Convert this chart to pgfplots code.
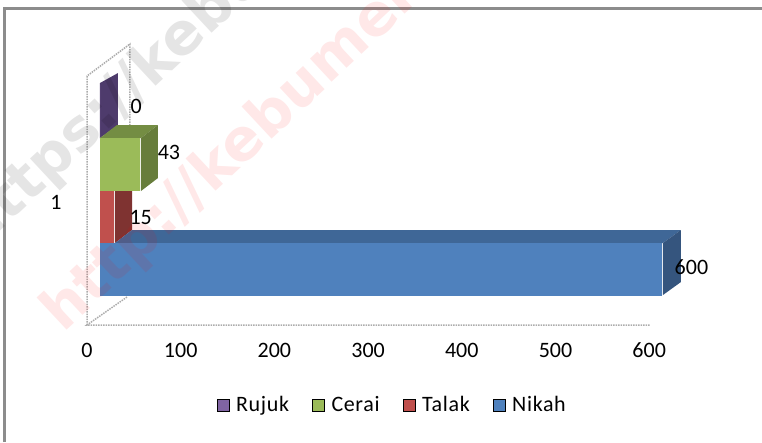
\documentclass[border=0pt]{standalone}
\usepackage{pgfplots}
\pgfplotsset{compat=1.18}
\usepackage{fontspec}
\setmainfont{Carlito}
\newfontfamily\wm{DejaVu Sans}
\definecolor{rujuk}{HTML}{8064A2}\definecolor{rujukS}{HTML}{4E3B6C}
\definecolor{cerai}{HTML}{9BBB59}\definecolor{ceraiS}{HTML}{677D3B}\definecolor{ceraiT}{HTML}{748D43}
\definecolor{talak}{HTML}{C0504D}\definecolor{talakS}{HTML}{7F3331}
\definecolor{nikah}{HTML}{4F81BD}\definecolor{nikahT}{HTML}{3F6797}\definecolor{nikahS}{HTML}{35557E}
\pgfplotsset{squareleg/.style={legend image code/.code={\fill[##1] (0pt,-6pt) rectangle (12pt,6pt);}},
  facebar/.style={forget plot, xbar, bar shift=0pt, bar width=53pt, draw=none, xshift=13pt}}
\begin{document}
\begin{tikzpicture}
\begin{axis}[
  scale only axis, width=762pt, height=442pt,
  xmin=-92.85, xmax=720.4, ymin=0, ymax=442, y dir=reverse,
  axis line style={draw=none}, tick style={draw=none},
  clip=false,
  xtick={0,100,200,300,400,500,600},
  xticklabels={0,100,200,300,400,500,600},
  xticklabel pos=lower,
  x tick label style={anchor=center, yshift=92pt},
  ytick={202}, yticklabels={1},
  y tick label style={anchor=center, xshift=56pt},
  tick label style={font=\fontsize{22}{24}\selectfont},
  legend columns=-1,
  legend style={draw=none, fill=none, at={(axis cs:325.8,405)}, anchor=center,
    font=\fontsize{22}{24}\selectfont\addfontfeatures{LetterSpace=3}, column sep=0pt,
    /tikz/every even column/.append style={column sep=21pt},
    /tikz/every odd column/.append style={column sep=5pt}},
]
% walls and floor
\addplot[forget plot, no marks, draw=gray!65, line width=1.5pt, densely dotted, sharp plot] coordinates {(0,325)(0,76)(45.89,44)(45.89,125)};
\addplot[forget plot, no marks, draw=gray!65, line width=1.5pt, densely dotted, sharp plot] coordinates {(42.69,297)(0,325)(600.9,325)};
% frame
\addplot[forget plot, no marks, draw=gray!90, line width=3pt, sharp plot] coordinates {(-88.05,442)(-88.05,8)(720.4,8)};
% Rujuk
\addplot[forget plot, no marks, draw=none, fill=rujukS, sharp plot] coordinates {(13.87,83)(33.08,73)(33.08,125)(13.87,138)} --cycle;
\addplot[facebar, fill=rujuk,
  nodes near coords={0}, every node near coord/.append style={anchor=west, xshift=27pt, yshift=5pt, font=\fontsize{22}{24}\selectfont, text=black}]
  coordinates {(0,111)};
% Cerai
\addplot[forget plot, no marks, draw=none, fill=ceraiT, sharp plot] coordinates {(13.87,138)(32.02,125)(75.77,125)(57.63,138)} --cycle;
\addplot[forget plot, no marks, draw=none, fill=ceraiS, sharp plot] coordinates {(57.63,138)(75.77,125)(75.77,178)(57.63,191)} --cycle;
\addplot[facebar, fill=cerai,
  nodes near coords={43}, every node near coord/.append style={anchor=west, xshift=14pt, yshift=12pt, font=\fontsize{22}{24}\selectfont, text=black}]
  coordinates {(43,164.5)};
% Talak
\addplot[forget plot, no marks, draw=none, fill=talakS, sharp plot] coordinates {(29.88,191)(48.03,191)(48.03,230)(29.88,243)} --cycle;
\addplot[facebar, fill=talak,
  nodes near coords={15}, every node near coord/.append style={anchor=west, xshift=12pt, yshift=0pt, font=\fontsize{22}{24}\selectfont, text=black}]
  coordinates {(15,217)};
% Nikah
\addplot[forget plot, no marks, draw=none, fill=nikahT, sharp plot] coordinates {(29.88,243)(48.03,230)(633.9,230)(614.7,243)} --cycle;
\addplot[forget plot, no marks, draw=none, fill=nikahS, sharp plot] coordinates {(614.7,243)(633.9,230)(633.9,282)(614.7,295)} --cycle;
\addplot[facebar, fill=nikah,
  nodes near coords={600}, every node near coord/.append style={anchor=west, xshift=9pt, yshift=2pt, font=\fontsize{22}{24}\selectfont, text=black}]
  coordinates {(600,269)};
% legend
\addlegendimage{squareleg, fill=rujuk}\addlegendentry{Rujuk}
\addlegendimage{squareleg, fill=cerai}\addlegendentry{Cerai}
\addlegendimage{squareleg, fill=talak}\addlegendentry{Talak}
\addlegendimage{squareleg, fill=nikah}\addlegendentry{Nikah}
% watermarks
\node[overlay, rotate=43, anchor=west, inner sep=0pt, text=red, opacity=0.09, font=\wm\bfseries\fontsize{58}{64}\selectfont] at (axis cs:-37,322) {http://kebumen};
\node[overlay, rotate=43, anchor=west, inner sep=0pt, text=black, opacity=0.1, font=\wm\bfseries\fontsize{58}{64}\selectfont] at (axis cs:-128,240) {https://kebumen};
\end{axis}
\pgfresetboundingbox
\useasboundingbox (0,0) rectangle (762pt,442pt);
\end{tikzpicture}
\end{document}
